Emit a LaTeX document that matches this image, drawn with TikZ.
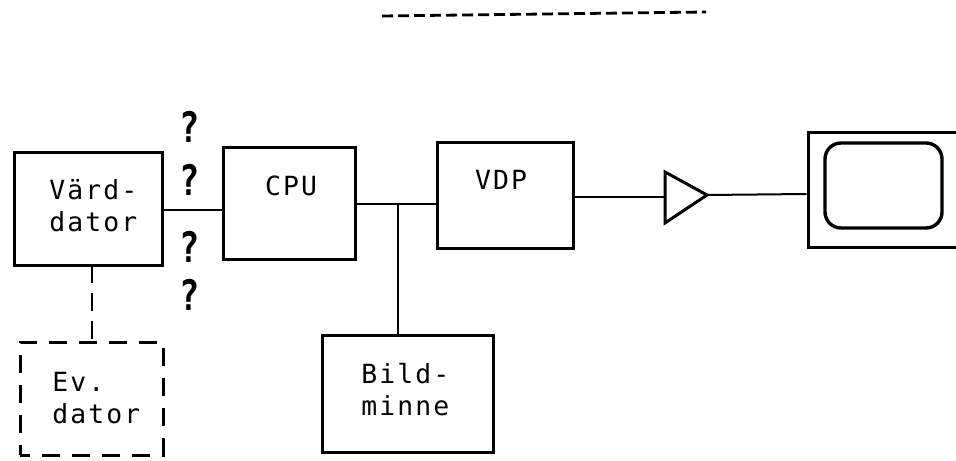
\documentclass[tikz,border=0pt]{standalone}
\usepackage{fontspec}
\usetikzlibrary{fit}
\newfontfamily\boxfont[LetterSpace=8]{DejaVu Sans Mono}
\newfontfamily\qfont{DejaVu Sans Mono}
\begin{document}
\begin{tikzpicture}[x=0.5pt,y=-0.5pt,
  box/.style={draw, line width=1.5pt, inner sep=0pt, rectangle},
  dbox/.style={box, dash pattern=on 9pt off 6pt, dash phase=4pt},
  wire/.style={line width=1pt},
  lbl/.style={font=\boxfont\fontsize{13.2}{16}\selectfont, align=left, inner sep=0pt},
  qmark/.style={font=\qfont\bfseries\fontsize{21}{21}\selectfont, inner sep=0pt, xscale=0.8}]
\clip (0,0) rectangle (956,460);

% blocks
\node[box, fit={(14,152) (162,265)}] (vard) {};
\node[dbox, fit={(20,342) (163,455)}] (ev) {};
\node[box, fit={(223,147) (355,259)}] (cpu) {};
\node[box, fit={(437,142) (573,248)}] (vdp) {};
\node[box, fit={(322,335) (493,452)}] (bild) {};

% display: outer frame runs off the right edge, rounded screen inside
\node[box, fit={(808,132) (1010,247)}] (mon) {};
\node[draw, line width=1.7pt, rounded corners=8pt, inner sep=0pt,
      fit={(825,143) (942,228)}] (screen) {};

% amplifier
\coordinate (ampin) at (665,197);
\coordinate (ampout) at (707,195);
\draw[line width=1.5pt, line join=miter] (665,172) -- (ampout) -- (665,223) -- cycle;

% labels
\node[lbl, anchor=west] (tvard) at (49,206) {Värd-\\dator};
\node[lbl, anchor=west] (tev) at (52,398) {Ev.\\dator};
\node[lbl, anchor=west] (tbild) at (361,390) {Bild-\\minne};
\node[lbl] (tcpu) at (291,186) {CPU};
\node[lbl] (tvdp) at (501,180) {VDP};

% question marks beside the host link
\node[qmark] (q1) at (190,127) {?};
\node[qmark] (q2) at (190,180) {?};
\node[qmark] (q3) at (190,247) {?};
\node[qmark] (q4) at (190,295) {?};

% connections
\coordinate (hostbus) at (0,210);
\coordinate (bus) at (0,204);
\coordinate (tap) at (398,0);
\coordinate (vidout) at (0,197);
\coordinate (feed) at (0,194);
\draw[wire] (vard.east |- hostbus) -- (cpu.west |- hostbus);
\draw[wire] (cpu.east |- bus) -- (vdp.west |- bus);
\draw[wire, line width=1.3pt] (tap |- bus) -- (tap |- bild.north);
\draw[wire] (vdp.east |- vidout) -- (ampin);
\draw[wire] (ampout) -- (mon.west |- feed);
\draw[wire, line width=1.3pt, dash pattern=on 9pt off 5pt] (92,265) -- (92,342);

% rule across the top
\coordinate (ruleL) at (382,16);
\coordinate (ruleR) at (706,12);
\draw[line width=1.4pt, dash pattern=on 5.5pt off 2.5pt] (ruleL) -- (ruleR);
\end{tikzpicture}
\end{document}
